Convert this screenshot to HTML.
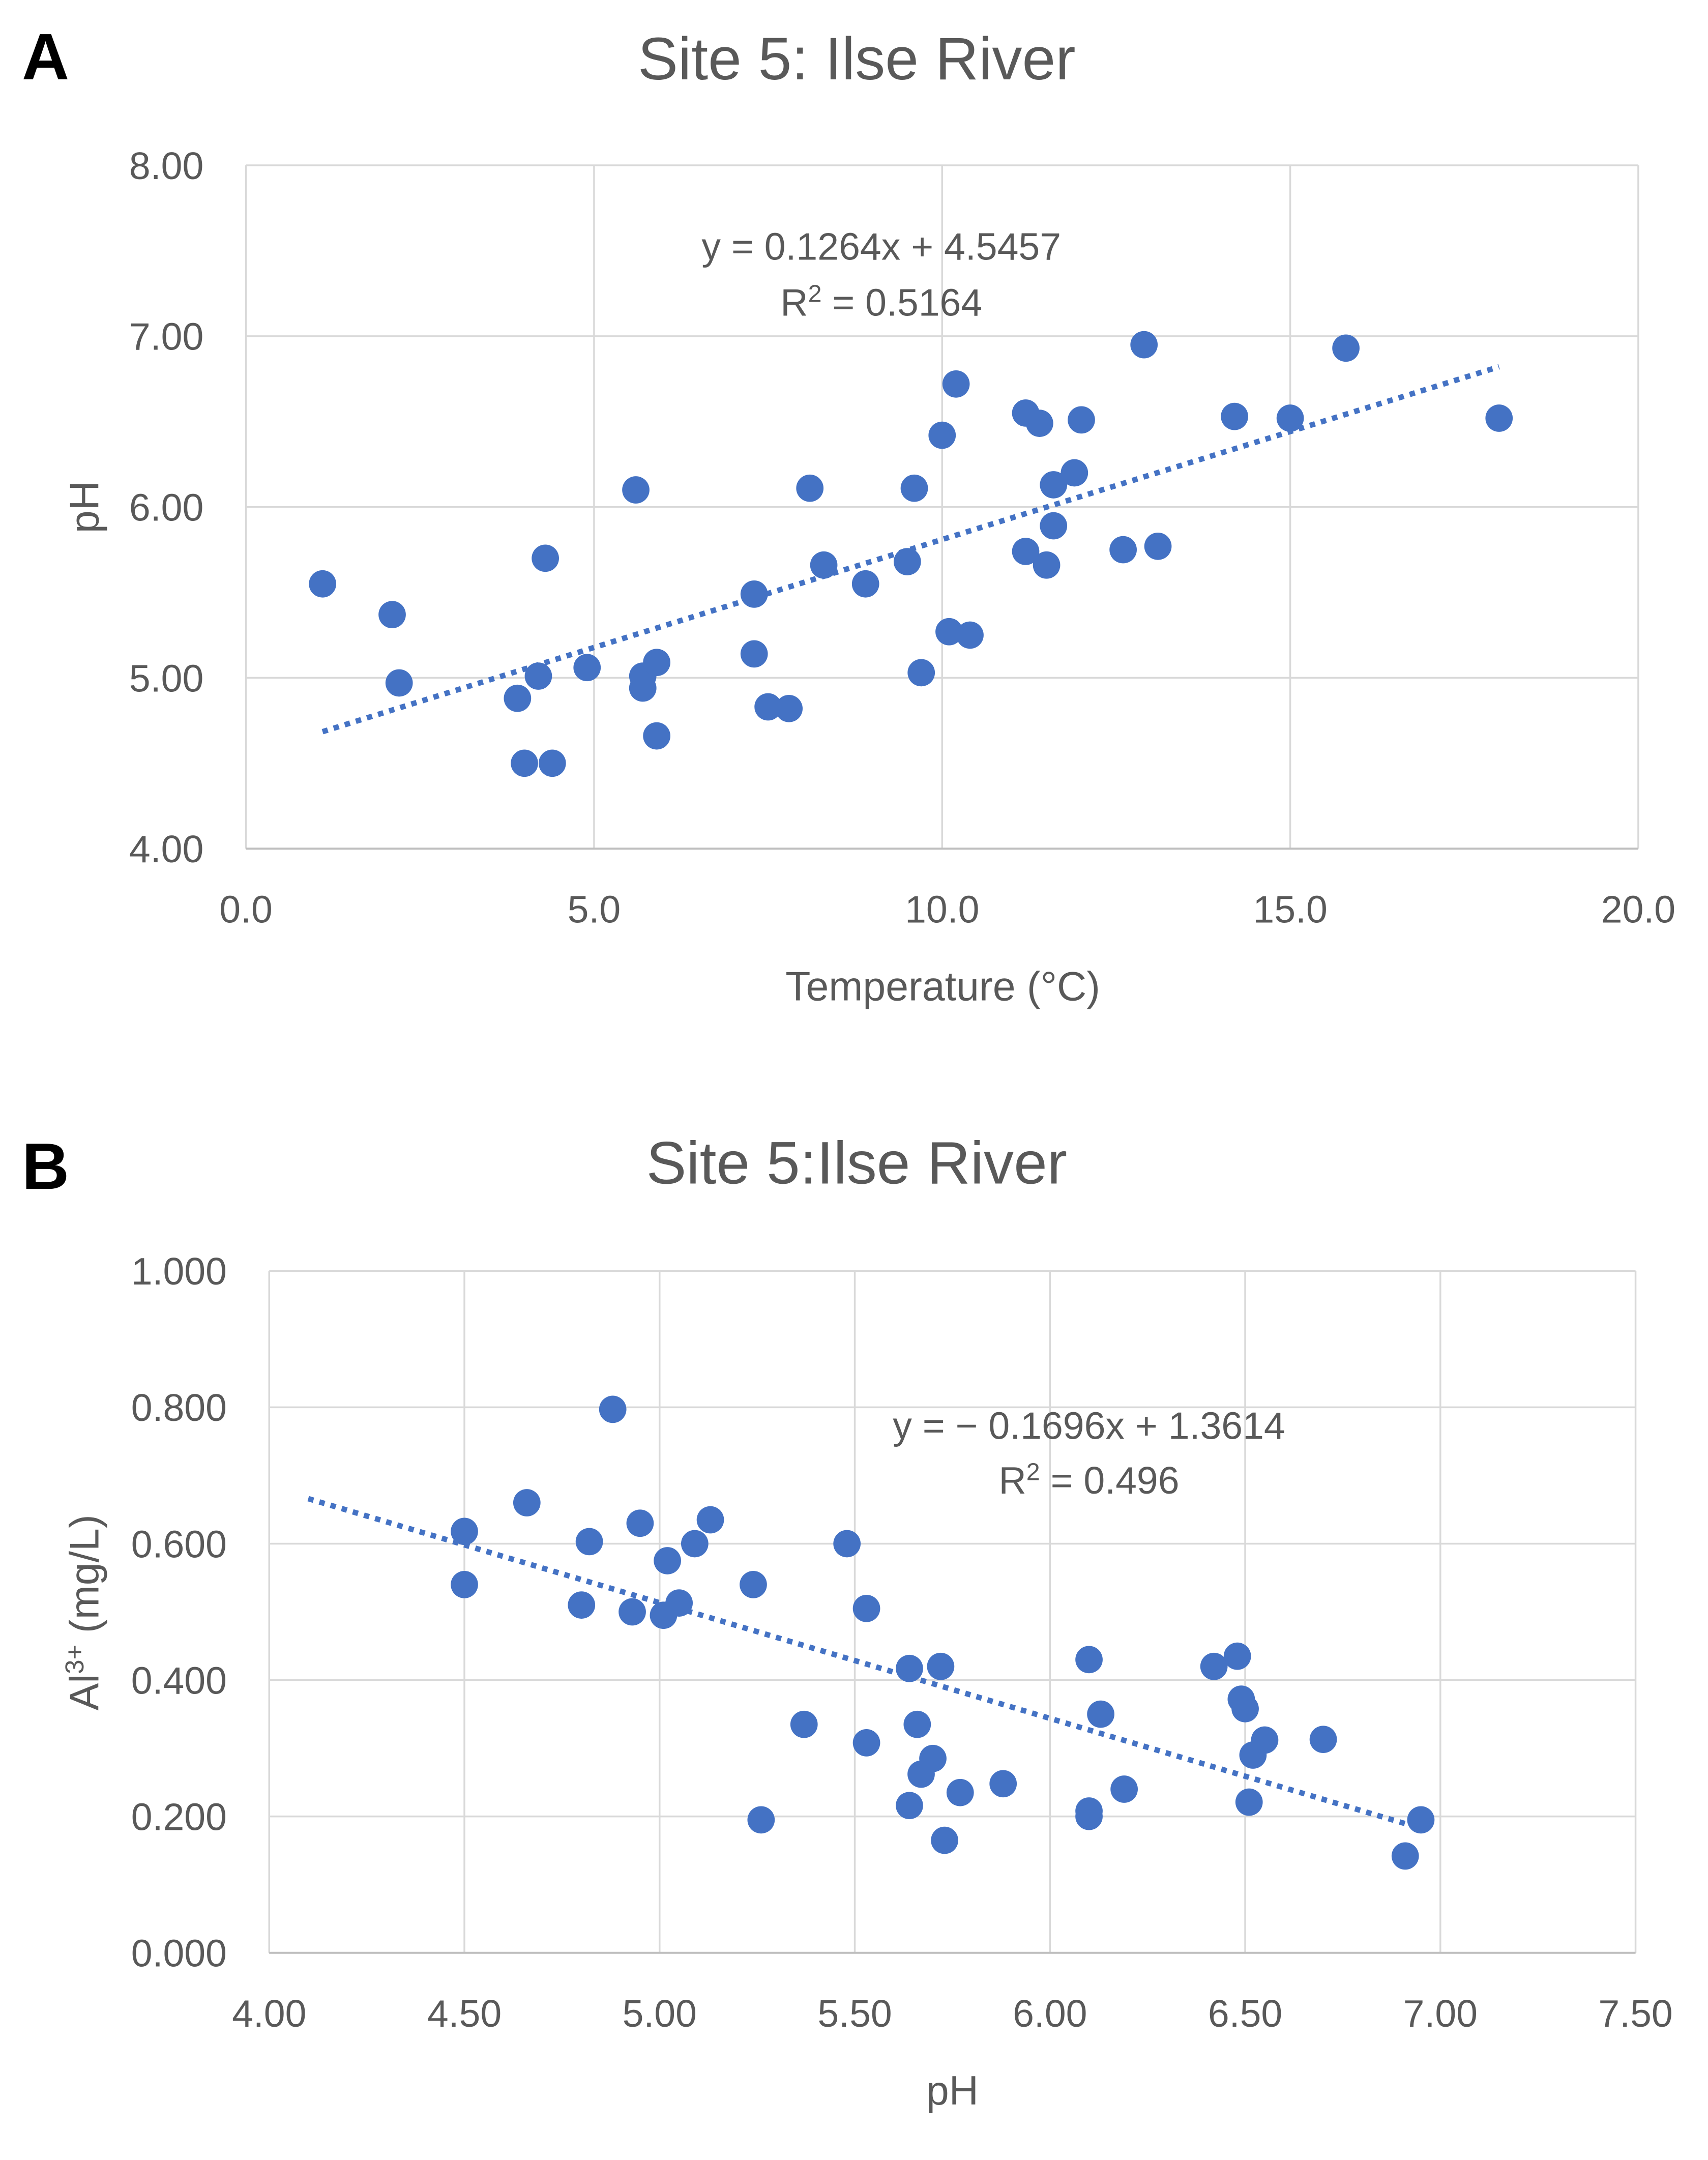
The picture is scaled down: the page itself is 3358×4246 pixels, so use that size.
<!DOCTYPE html>
<html><head><meta charset="utf-8"><style>
html,body{margin:0;padding:0;background:#fff;}
svg{display:block;font-family:"Liberation Sans",sans-serif;}
</style></head><body>
<svg id="svg" width="3358" height="4246" viewBox="0 0 1250 1580.6" xmlns="http://www.w3.org/2000/svg">
<rect width="1250" height="1580.6" fill="#fff"/>
<g id="A"></g>
<g id="B"></g>
</svg>
<script>
// Chart A data
const aTemp=[1.1,2.1,2.2,3.9,4.0,4.2,4.3,4.4,4.9,5.6,5.7,5.7,5.9,5.9,7.3,7.3,7.5,7.8,8.1,8.3,8.9,9.5,9.6,9.7,10.0,10.1,10.2,10.4,11.2,11.2,11.4,11.5,11.6,11.6,11.9,12.0,12.6,12.9,13.1,14.2,15.0,15.8,18.0];
const aPH=[5.55,5.37,4.97,4.88,4.50,5.01,5.70,4.50,5.06,6.10,5.01,4.94,5.09,4.66,5.49,5.14,4.83,4.82,6.11,5.66,5.55,5.68,6.11,5.03,6.42,5.27,6.72,5.25,6.55,5.74,6.49,5.66,5.89,6.13,6.20,6.51,5.75,6.95,5.77,6.53,6.52,6.93,6.52];
const aXTicks=["0.0","5.0","10.0","15.0","20.0"];
const aYTicks=["4.00","5.00","6.00","7.00","8.00"];
const aSlope=0.1264, aIntercept=4.5457;
// Chart B data
const bPH=[4.50,4.50,4.66,4.80,4.82,4.88,4.93,4.95,5.01,5.02,5.05,5.09,5.13,5.24,5.26,5.37,5.48,5.53,5.53,5.64,5.64,5.66,5.67,5.70,5.72,5.73,5.77,5.88,6.10,6.10,6.10,6.13,6.19,6.42,6.48,6.49,6.50,6.51,6.52,6.55,6.70,6.91,6.95];
const bAl=[0.618,0.540,0.660,0.510,0.603,0.797,0.500,0.630,0.495,0.575,0.513,0.600,0.635,0.540,0.195,0.335,0.600,0.505,0.308,0.417,0.216,0.335,0.262,0.285,0.420,0.165,0.235,0.248,0.208,0.430,0.200,0.350,0.240,0.420,0.435,0.372,0.358,0.221,0.290,0.312,0.313,0.142,0.195];
const bXTicks=["4.00","4.50","5.00","5.50","6.00","6.50","7.00","7.50"];
const bYTicks=["0.000","0.200","0.400","0.600","0.800","1.000"];
const bSlope=-0.1696, bIntercept=1.3614;

const NS="http://www.w3.org/2000/svg";
function mk(parent,tag,attrs,text){const e=document.createElementNS(NS,tag);for(const k in attrs)e.setAttribute(k,attrs[k]);if(text!==undefined)e.textContent=text;parent.appendChild(e);return e;}

function chart(g,o){
  const sx=v=>o.x0+(v-o.xmin)/(o.xmax-o.xmin)*(o.x1-o.x0);
  const sy=v=>o.y0-(v-o.ymin)/(o.ymax-o.ymin)*(o.y0-o.y1);
  o.xt.forEach(t=>{const v=parseFloat(t);
    const l=mk(g,'line',{x1:sx(v),x2:sx(v),y1:o.y1,y2:o.y0,stroke:'#d9d9d9','stroke-width':1.3});
    
    
    const tx=mk(g,'text',{x:sx(v),y:o.y0+54,'font-size':28,fill:'#595959','text-anchor':'middle'},t);
    
    
  });
  o.yt.forEach(t=>{const v=parseFloat(t);
    const l=mk(g,'line',{x1:o.x0,x2:o.x1,y1:sy(v),y2:sy(v),stroke:'#d9d9d9','stroke-width':1.3});
    
    
    const tx=mk(g,'text',{x:o.ylx,y:sy(v)+10,'font-size':28,fill:'#595959','text-anchor':'end'},t);
    
    
  });
  const ax=mk(g,'line',{x1:o.x0,x2:o.x1,y1:o.y0,y2:o.y0,stroke:'#bfbfbf','stroke-width':1.5});
  
  
  o.xs.forEach((x,i)=>{
    const c=mk(g,'circle',{cx:sx(x),cy:sy(o.ys[i]),r:10,fill:'#4472C4'});
    
    
  });
  const ta=o.tx[0],tb=o.tx[1];
  const tl=mk(g,'line',{x1:sx(ta),y1:sy(o.m*ta+o.b),x2:sx(tb),y2:sy(o.m*tb+o.b),stroke:'#4472C4','stroke-width':4,'stroke-dasharray':'4 4.5'});
  
  
}
const A=document.getElementById('A'),B=document.getElementById('B');
chart(A,{x0:180,x1:1199,y0:621,y1:121,xmin:0,xmax:20,ymin:4,ymax:8,xt:aXTicks,yt:aYTicks,ylx:149,xs:aTemp,ys:aPH,m:aSlope,b:aIntercept,tx:[1.1,18.0]});
chart(B,{x0:197,x1:1197,y0:1429,y1:930,xmin:4,xmax:7.5,ymin:0,ymax:1,xt:bXTicks,yt:bYTicks,ylx:166,xs:bPH,ys:bAl,m:bSlope,b:bIntercept,tx:[4.10,6.95]});
</script>
<svg style="position:absolute;left:0;top:0" width="3358" height="4246" viewBox="0 0 1250 1580.6" xmlns="http://www.w3.org/2000/svg">
<text x="16" y="58" font-size="48" font-weight="bold" fill="#000">A</text>
<text x="627" y="58" font-size="44" fill="#595959" text-anchor="middle">Site 5: Ilse River</text>
<text x="645" y="190" font-size="28" fill="#595959" text-anchor="middle">y = 0.1264x + 4.5457</text>
<text x="645" y="231" font-size="28" fill="#595959" text-anchor="middle">R<tspan font-size="18" dy="-10">2</tspan><tspan dy="10"> = 0.5164</tspan></text>
<text x="690" y="732" font-size="30" fill="#595959" text-anchor="middle">Temperature (°C)</text>
<text transform="translate(72,371) rotate(-90)" font-size="30" fill="#595959" text-anchor="middle">pH</text>
<text x="16" y="870" font-size="48" font-weight="bold" fill="#000">B</text>
<text x="627" y="866" font-size="44" fill="#595959" text-anchor="middle">Site 5:Ilse River</text>
<text x="797" y="1053" font-size="28" fill="#595959" text-anchor="middle">y = − 0.1696x + 1.3614</text>
<text x="797" y="1093" font-size="28" fill="#595959" text-anchor="middle">R<tspan font-size="18" dy="-10">2</tspan><tspan dy="10"> = 0.496</tspan></text>
<text x="697" y="1540" font-size="30" fill="#595959" text-anchor="middle">pH</text>
<text transform="translate(72,1180) rotate(-90)" font-size="30" fill="#595959" text-anchor="middle">Al<tspan font-size="19" dy="-11">3+</tspan><tspan dy="11"> (mg/L)</tspan></text>
</svg>
</body></html>
